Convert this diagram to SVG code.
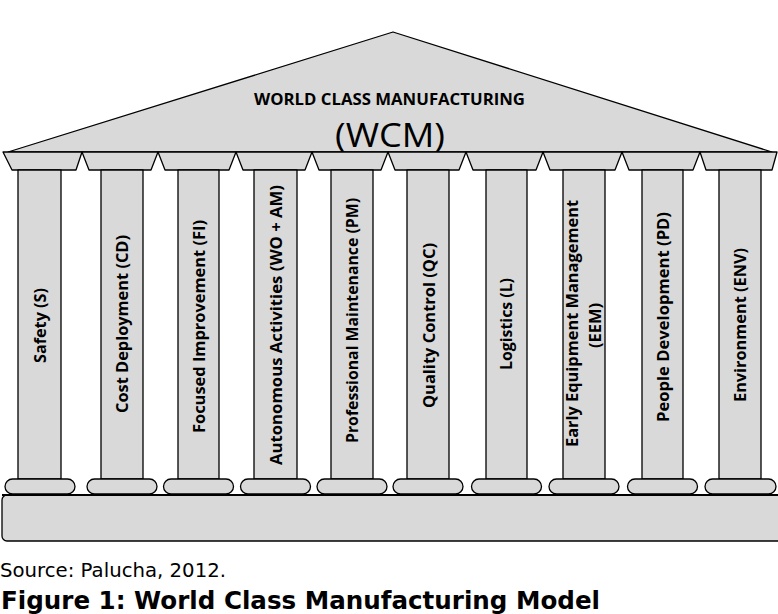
<svg xmlns="http://www.w3.org/2000/svg" width="778" height="614" viewBox="0 0 778 614">
<style>
.g{fill:#d9d9d9;stroke:#000;stroke-width:1.3;stroke-linejoin:round}
.lbl{font-family:"Open Sans","Liberation Sans",sans-serif;font-weight:700;font-size:16px;text-anchor:middle;fill:#000}
.t{font-family:"Open Sans","Liberation Sans",sans-serif;fill:#000;text-anchor:middle}
.cap{font-family:"DejaVu Sans","Liberation Sans",sans-serif;fill:#000}
</style>
<rect width="778" height="614" fill="#fff"/>
<g id="roof">
<polygon class="g" points="8,152 393,32 772,152"/>
<text class="t" x="389.5" y="105" font-size="16.5" font-weight="700" textLength="271" lengthAdjust="spacingAndGlyphs">WORLD CLASS MANUFACTURING</text>
<text class="t" x="390" y="147" font-size="32" textLength="110" lengthAdjust="spacingAndGlyphs">(WCM)</text>
</g>
<g id="base">
<rect class="g" x="2" y="495" width="800" height="46" rx="5"/>
<line x1="2" y1="495" x2="778" y2="495" stroke="#000" stroke-width="2"/>
</g>
<g id="p1">
<polygon class="g" points="3,152 82,152 76,170 12,170"/>
<rect class="g" x="18" y="170" width="43" height="309"/>
<rect class="g" x="5" y="479" width="70" height="15" rx="7.5"/>
<text class="lbl" transform="translate(46,325.5) rotate(-90)" textLength="75" lengthAdjust="spacingAndGlyphs">Safety (S)</text>
</g>
<g id="p2">
<polygon class="g" points="82,152 158,152 151,170 89,170"/>
<rect class="g" x="101" y="170" width="42" height="309"/>
<rect class="g" x="87" y="479" width="70" height="15" rx="7.5"/>
<text class="lbl" transform="translate(128,324) rotate(-90)" textLength="178" lengthAdjust="spacingAndGlyphs">Cost Deployment (CD)</text>
</g>
<g id="p3">
<polygon class="g" points="158,152 236,152 229,170 165,170"/>
<rect class="g" x="178" y="170" width="41" height="309"/>
<rect class="g" x="163.5" y="479" width="70" height="15" rx="7.5"/>
<text class="lbl" transform="translate(205,326.5) rotate(-90)" textLength="213" lengthAdjust="spacingAndGlyphs">Focused Improvement (FI)</text>
</g>
<g id="p4">
<polygon class="g" points="236,152 312,152 305,170 243,170"/>
<rect class="g" x="254" y="170" width="43" height="309"/>
<rect class="g" x="240.5" y="479" width="70" height="15" rx="7.5"/>
<text class="lbl" transform="translate(282,325) rotate(-90)" textLength="280" lengthAdjust="spacingAndGlyphs">Autonomous Activities (WO + AM)</text>
</g>
<g id="p5">
<polygon class="g" points="312,152 388,152 381,170 319,170"/>
<rect class="g" x="331" y="170" width="42" height="309"/>
<rect class="g" x="317" y="479" width="70" height="15" rx="7.5"/>
<text class="lbl" transform="translate(358,320.5) rotate(-90)" textLength="245" lengthAdjust="spacingAndGlyphs">Professional Maintenance (PM)</text>
</g>
<g id="p6">
<polygon class="g" points="388,152 466,152 459,170 395,170"/>
<rect class="g" x="407" y="170" width="42" height="309"/>
<rect class="g" x="393" y="479" width="70" height="15" rx="7.5"/>
<text class="lbl" transform="translate(435,325.5) rotate(-90)" textLength="165" lengthAdjust="spacingAndGlyphs">Quality Control (QC)</text>
</g>
<g id="p7">
<polygon class="g" points="466,152 543,152 536,170 473,170"/>
<rect class="g" x="486" y="170" width="41" height="309"/>
<rect class="g" x="471.5" y="479" width="70" height="15" rx="7.5"/>
<text class="lbl" transform="translate(512,324) rotate(-90)" textLength="92" lengthAdjust="spacingAndGlyphs">Logistics (L)</text>
</g>
<g id="p8">
<polygon class="g" points="543,152 622,152 615,170 550,170"/>
<rect class="g" x="563" y="170" width="42" height="309"/>
<rect class="g" x="549" y="479" width="70" height="15" rx="7.5"/>
<text class="lbl" transform="translate(578,323.5) rotate(-90)" textLength="247" lengthAdjust="spacingAndGlyphs">Early  Equipment Management</text>
<text class="lbl" transform="translate(601,325.5) rotate(-90)" textLength="45" lengthAdjust="spacingAndGlyphs">(EEM)</text>
</g>
<g id="p9">
<polygon class="g" points="622,152 700,152 693,170 629,170"/>
<rect class="g" x="642" y="170" width="41" height="309"/>
<rect class="g" x="627.5" y="479" width="70" height="15" rx="7.5"/>
<text class="lbl" transform="translate(669,317) rotate(-90)" textLength="210" lengthAdjust="spacingAndGlyphs">People Development (PD)</text>
</g>
<g id="p10">
<polygon class="g" points="700,152 777,152 772,170 706,170"/>
<rect class="g" x="719" y="170" width="42" height="309"/>
<rect class="g" x="705" y="479" width="71" height="15" rx="7.5"/>
<text class="lbl" transform="translate(746,325) rotate(-90)" textLength="154" lengthAdjust="spacingAndGlyphs">Environment (ENV)</text>
</g>
<g id="connectors"></g>
<text class="cap" x="0" y="577" font-size="20" textLength="226" lengthAdjust="spacingAndGlyphs">Source: Palucha, 2012.</text>
<text class="cap" x="1" y="609" font-size="25" font-weight="700" textLength="599" lengthAdjust="spacingAndGlyphs">Figure 1: World Class Manufacturing Model</text>
</svg>
